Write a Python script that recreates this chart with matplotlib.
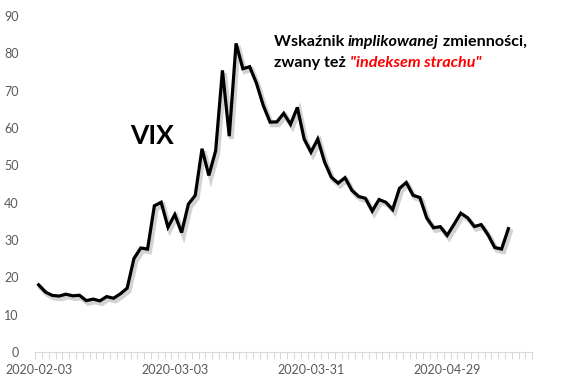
import matplotlib
matplotlib.use("Agg")
import matplotlib.pyplot as plt
import matplotlib.patheffects as pe
import numpy as np

plt.rcParams['font.family'] = ['Lato', 'DejaVu Sans']

# trading days shown on the category axis (last three have no value yet)
dates = ['2020-02-03', '2020-02-04', '2020-02-05', '2020-02-06', '2020-02-07',
         '2020-02-10', '2020-02-11', '2020-02-12', '2020-02-13', '2020-02-14',
         '2020-02-18', '2020-02-19', '2020-02-20', '2020-02-21',
         '2020-02-24', '2020-02-25', '2020-02-26', '2020-02-27', '2020-02-28',
         '2020-03-02', '2020-03-03', '2020-03-04', '2020-03-05', '2020-03-06',
         '2020-03-09', '2020-03-10', '2020-03-11', '2020-03-12', '2020-03-13',
         '2020-03-16', '2020-03-17', '2020-03-18', '2020-03-19', '2020-03-20',
         '2020-03-23', '2020-03-24', '2020-03-25', '2020-03-26', '2020-03-27',
         '2020-03-30', '2020-03-31', '2020-04-01', '2020-04-02', '2020-04-03',
         '2020-04-06', '2020-04-07', '2020-04-08', '2020-04-09',
         '2020-04-13', '2020-04-14', '2020-04-15', '2020-04-16', '2020-04-17',
         '2020-04-20', '2020-04-21', '2020-04-22', '2020-04-23', '2020-04-24',
         '2020-04-27', '2020-04-28', '2020-04-29', '2020-04-30', '2020-05-01',
         '2020-05-04', '2020-05-05', '2020-05-06', '2020-05-07', '2020-05-08',
         '2020-05-11', '2020-05-12', '2020-05-13', '2020-05-14', '2020-05-15']

vix = [17.97, 16.05, 15.15, 14.96, 15.47, 15.04, 15.18, 13.74, 14.15, 13.68,
       14.83, 14.38, 15.56, 17.08, 25.03, 27.85, 27.56, 39.16, 40.11,
       33.42, 36.82, 31.99, 39.62, 41.94, 54.46, 47.30, 53.90, 75.47, 57.83,
       82.69, 75.91, 76.45, 72.00, 66.04, 61.59, 61.67, 63.95, 61.00, 65.54,
       57.08, 53.54, 57.06, 50.91, 46.80, 45.24, 46.70, 43.35, 41.67,
       41.17, 37.76, 40.84, 40.11, 38.15, 43.83, 45.41, 41.98, 41.38, 35.93,
       33.29, 33.57, 31.23, 34.15, 37.19, 35.97, 33.61, 34.12, 31.44, 27.98,
       27.57, 33.04]

label_step = 20

fig = plt.figure(figsize=(5.68, 3.85), dpi=100)
ax = fig.add_axes([0.062, 0.086, 0.875, 0.872])

x = np.arange(len(vix))
ax.plot(x, vix, color='black', lw=2.3, solid_joinstyle='miter',
        path_effects=[pe.SimpleLineShadow(offset=(1.5, -2), shadow_color='gray', alpha=0.35, linewidth=3.5),
                      pe.Normal()])

ax.set_xlim(-0.5, len(dates) - 0.5)
ax.set_ylim(0, 90)
ax.set_yticks(range(0, 91, 10))

ax.set_xticks(np.arange(0, len(dates), label_step))
ax.set_xticklabels(dates[::label_step])
ax.set_xticks(np.arange(-0.5, len(dates), 1), minor=True)
ax.tick_params(axis='x', which='major', length=0, pad=9, labelsize=9, labelcolor='#595959')
ax.tick_params(axis='x', which='minor', length=5, color='#d9d9d9', width=0.8)
ax.tick_params(axis='y', length=0, pad=12, labelsize=9, labelcolor='#595959')

for s in ['top', 'right', 'left']:
    ax.spines[s].set_visible(False)
ax.spines['bottom'].set_color('#d9d9d9')
ax.spines['bottom'].set_linewidth(0.8)

ax.text(0.192, 0.62, 'VIX', transform=ax.transAxes, fontsize=19, fontweight='bold')

# two-line annotation with mixed styles
fs = 11.6
t1 = ax.text(0.48, 0.902, 'Wskaźnik ', transform=ax.transAxes, va='bottom',
             fontsize=fs, fontweight='bold')
t2 = ax.annotate('implikowanej', xy=(1, 0), xycoords=t1, va='bottom', fontsize=fs,
                 fontweight='bold', style='italic')
ax.annotate(' zmienności,', xy=(1, 0), xycoords=t2, va='bottom', fontsize=fs, fontweight='bold')
t4 = ax.text(0.48, 0.839, 'zwany też ', transform=ax.transAxes, va='bottom',
             fontsize=fs, fontweight='bold')
ax.annotate('"indeksem strachu"', xy=(1, 0), xycoords=t4, va='bottom', fontsize=fs,
            fontweight='bold', style='italic', color='#ff0000')

fig.savefig('out.png', dpi=100)
